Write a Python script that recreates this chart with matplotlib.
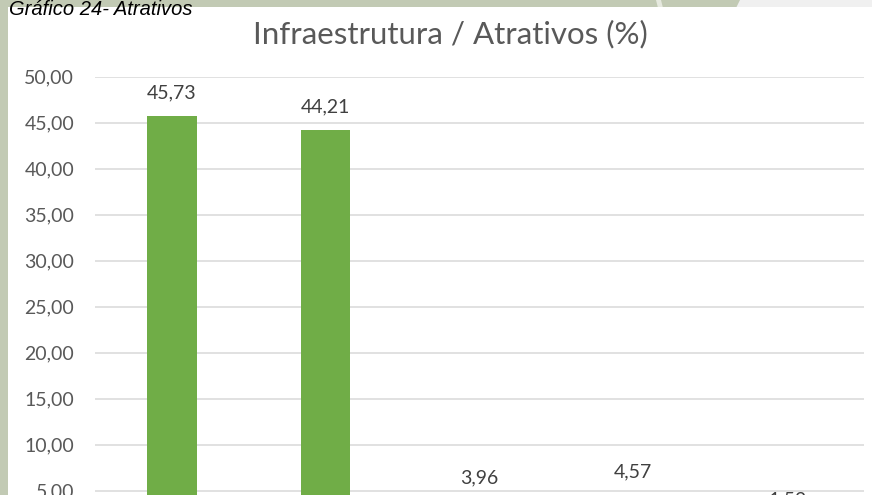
import numpy as np
import matplotlib
matplotlib.use("Agg")
import matplotlib.pyplot as plt
from matplotlib.colors import to_rgb
from matplotlib.patches import Polygon, Rectangle

width = 872
height = 495

values = [45.73, 44.21, 3.96, 4.57, 1.52]
bar_colors = ["#70ad47", "#70ad47", "#70ad47", "#c9e3b8", "#70ad47"]
y_ticks = [0, 5, 10, 15, 20, 25, 30, 35, 40, 45, 50]

title = "Infraestrutura / Atrativos (%)"
caption = "Gráfico 24- Atrativos"

text_grey = "#595959"
grid_grey = "#d9d9d9"
main_font = "Lato"


def fmt(v):
    return f"{v:.2f}".replace(".", ",")


def px(x, y):
    # pixel position (from top-left) -> figure fraction
    return x / width, 1 - y / height


def draw_page(fig):
    bg = fig.add_axes([0, 0, 1, 1], zorder=-5)
    bg.set_xlim(0, width)
    bg.set_ylim(height, 0)
    bg.axis("off")

    bg.add_patch(Rectangle((0, 0), width, height, color="#c2cab4", lw=0))
    bg.add_patch(Polygon([(740, 0), (width, 0), (width, 8), (736, 8)],
                         closed=True, color="#f0f0f0", lw=0))
    bg.add_patch(Polygon([(656, 0), (661, 0), (663, 8), (658, 8)],
                         closed=True, color="#e6e9df", lw=0))

    # soft vertical band on the left edge
    stops = [0, 20, 60, 150, 200, 250, 495]
    cols = ["#cdd4c1", "#d9ddca", "#e6e9d6", "#e3e7d3", "#d2d8c5", "#c3cbb7", "#c6cebb"]
    rgb = np.array([to_rgb(c) for c in cols])
    ys = np.arange(height)
    strip = np.stack([np.interp(ys, stops, rgb[:, k]) for k in range(3)], axis=1)
    bg.imshow(strip[:, None, :], extent=(0, 8, height, 0), aspect="auto",
              interpolation="bilinear")

    bg.add_patch(Rectangle((8, 7), width - 8, height - 7, color="white", lw=0))
    bg.set_xlim(0, width)
    bg.set_ylim(height, 0)


def draw_chart(fig):
    left, top = px(95, 76.7)
    right, bottom = px(864, 536.7)
    ax = fig.add_axes([left, bottom, right - left, top - bottom])
    ax.set_facecolor("none")

    xs = np.arange(len(values))
    bars = ax.bar(xs, values, width=0.32, color=bar_colors, zorder=3)
    for rect, v in zip(bars, values):
        ax.annotate(fmt(v), (rect.get_x() + rect.get_width() / 2, v),
                    xytext=(0, 12.5), textcoords="offset points",
                    ha="center", va="baseline", fontsize=14,
                    family=main_font, color="#404040", annotation_clip=False)

    ax.set_xlim(-0.5, len(values) - 0.5)
    ax.set_ylim(0, 50)
    ax.set_yticks(y_ticks)
    ax.set_yticklabels([fmt(t) for t in y_ticks], family=main_font,
                       fontsize=14, color=text_grey)
    ax.set_xticks([])
    ax.tick_params(axis="y", length=0, pad=15)
    ax.grid(axis="y", color=grid_grey, lw=1.1, zorder=0)
    ax.set_axisbelow(True)
    for s in ax.spines.values():
        s.set_visible(False)


fig = plt.figure(figsize=(width / 100, height / 100), dpi=100)
draw_page(fig)
draw_chart(fig)

fig.text(*px(450, 43), title, ha="center", va="baseline", fontsize=22.5,
         family=main_font, color=text_grey)
fig.text(*px(8.5, 15), caption, ha="left", va="baseline", fontsize=14.5,
         family="Liberation Sans", style="italic", color="black")

fig.savefig("out.png", dpi=100)
